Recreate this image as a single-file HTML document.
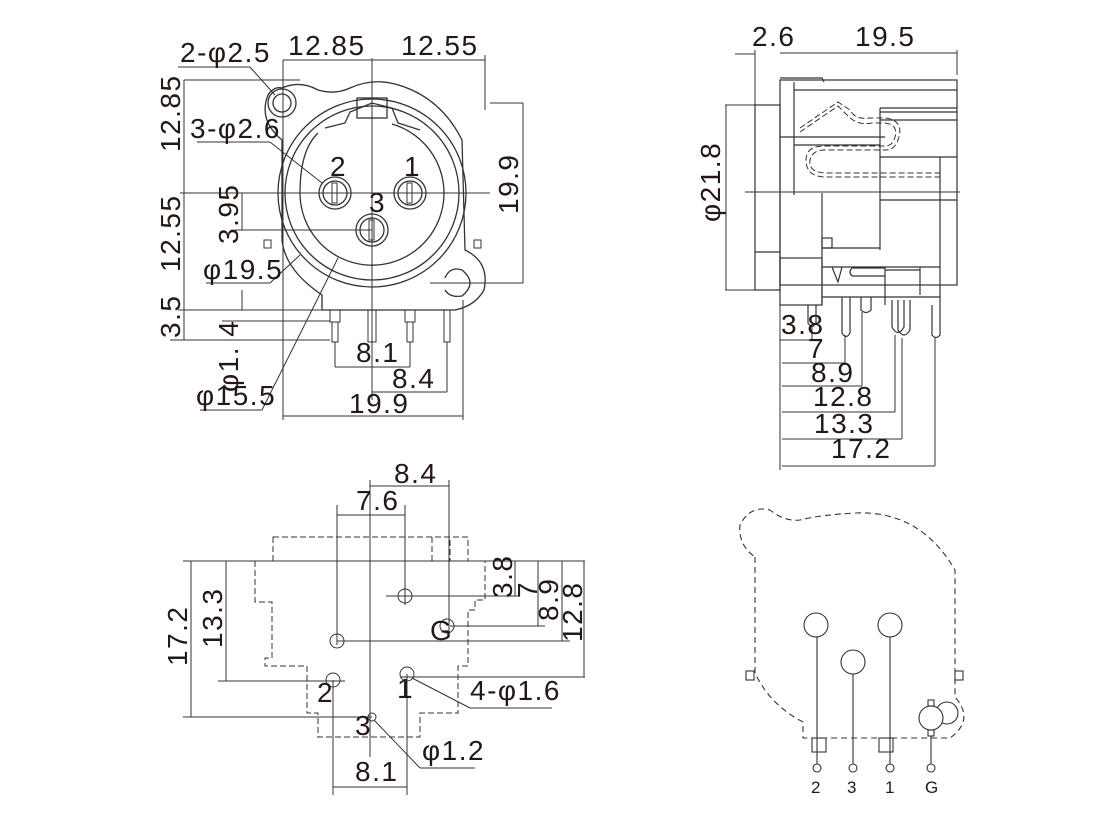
<!DOCTYPE html>
<html><head><meta charset="utf-8"><style>
html,body{margin:0;padding:0;background:#fff}
svg{display:block}
text{font-family:"Liberation Sans",sans-serif;fill:#231815}
.big{font-size:28px;letter-spacing:1.5px}
</style></head><body>
<svg width="1120" height="822" viewBox="0 0 1120 822" xmlns="http://www.w3.org/2000/svg">
<g fill="none" stroke="#333" stroke-width="1">
<path d="M282,88 Q300,80 318,90 Q335,95 350,88 Q372,78 395,84 Q440,96 462,140 L465,250 Q490,262 484,290 Q475,306 455,310 L322,310 L322,295 Q285,270 282,240 L282,140 Q258,120 268,95 Q274,86 282,88 Z" stroke-width="1.3"/>
<circle cx="282" cy="103" r="14" stroke-width="1.3"/>
<circle cx="282" cy="103" r="9" stroke-width="1.3"/>
<circle cx="372" cy="193" r="94" stroke-width="1.3"/>
<circle cx="372" cy="193" r="87" stroke-width="1.3"/>
<path d="M318,133 Q300,150 300,193 A72,72 0 1 0 392,124" stroke-width="1.3"/>
<path d="M325,128 L345,123 L350,112 L372,103 L392,108 L398,123 L420,130" stroke-width="1.3"/>
<rect x="357" y="98" width="30" height="20" stroke-width="1.3"/>
<rect x="264" y="240" width="7" height="8"/><rect x="474" y="240" width="7" height="8"/>
<path d="M445,278 Q450,266 462,270 Q478,283 462,296 Q450,298 445,290" stroke-width="1.3"/>
<circle cx="335" cy="193" r="16" stroke-width="1.3"/><circle cx="335" cy="193" r="12" stroke-width="1.3"/>
<circle cx="410" cy="193" r="16" stroke-width="1.3"/><circle cx="410" cy="193" r="12" stroke-width="1.3"/>
<circle cx="372" cy="230" r="16" stroke-width="1.3"/><circle cx="372" cy="230" r="12" stroke-width="1.3"/>
<rect x="332" y="183" width="5" height="20"/><rect x="407" y="183" width="5" height="20"/><rect x="369" y="220" width="5" height="20"/>
<rect x="330" y="310" width="10" height="12"/><rect x="332" y="322" width="6" height="20"/>
<rect x="368" y="310" width="8" height="32"/>
<rect x="405" y="310" width="10" height="12"/><rect x="407" y="322" width="6" height="20"/>
<rect x="444" y="310" width="6" height="32"/>
<line x1="372" y1="58" x2="372" y2="400"/>
<line x1="180" y1="193" x2="490" y2="193"/>
<line x1="283" y1="60" x2="485" y2="60"/>
<line x1="485" y1="55" x2="485" y2="110"/>
<line x1="283" y1="60" x2="283" y2="420"/>
<line x1="184" y1="80" x2="300" y2="80"/>
<line x1="184" y1="80" x2="184" y2="340"/>
<line x1="178" y1="310" x2="330" y2="310"/>
<line x1="170" y1="340" x2="330" y2="340"/>
<line x1="178" y1="67" x2="250" y2="67"/><line x1="250" y1="67" x2="275" y2="95"/>
<line x1="197" y1="142" x2="270" y2="142"/><line x1="270" y1="142" x2="322" y2="183"/>
<line x1="242" y1="193" x2="242" y2="230"/><line x1="235" y1="230" x2="372" y2="230"/>
<line x1="206" y1="283" x2="270" y2="283"/><line x1="270" y1="283" x2="300" y2="255"/>
<line x1="242" y1="290" x2="242" y2="310"/><line x1="222" y1="321" x2="330" y2="321"/>
<line x1="200" y1="410" x2="262" y2="410"/><line x1="262" y1="410" x2="338" y2="258"/>
<line x1="490" y1="103" x2="523" y2="103"/><line x1="430" y1="283" x2="523" y2="283"/><line x1="523" y1="103" x2="523" y2="283"/>
<line x1="335" y1="342" x2="335" y2="367"/><line x1="410" y1="342" x2="410" y2="367"/><line x1="335" y1="367" x2="410" y2="367"/>
<line x1="447" y1="342" x2="447" y2="392"/><line x1="372" y1="392" x2="447" y2="392"/>
<line x1="463" y1="300" x2="463" y2="420"/><line x1="283" y1="416" x2="463" y2="416"/>
</g>
<g class="big">
<text x="180" y="62">2-φ2.5</text>
<text x="288" y="55">12.85</text>
<text x="401" y="55">12.55</text>
<text x="190" y="138">3-φ2.6</text>
<text x="330" y="176">2</text><text x="404" y="176">1</text><text x="369" y="212">3</text>
<text x="203" y="279">φ19.5</text>
<text x="356" y="362">8.1</text>
<text x="392" y="388">8.4</text>
<text x="196" y="405">φ15.5</text>
<text x="349" y="413">19.9</text>
<text transform="translate(180,152) rotate(-90)">12.85</text>
<text transform="translate(180,272) rotate(-90)">12.55</text>
<text transform="translate(180,338) rotate(-90)">3.5</text>
<text transform="translate(238,244) rotate(-90)">3.95</text>
<text transform="translate(238,392) rotate(-90)">φ1. 4</text>
<text transform="translate(518,214) rotate(-90)">19.9</text>
</g>

<g fill="none" stroke="#333" stroke-width="1.2">
<rect x="755" y="105" width="25" height="185"/>
<line x1="755" y1="252" x2="780" y2="252"/>
<rect x="780" y="80" width="177" height="205"/>
<path d="M780,78 L822,78 L824,82"/>
<line x1="794" y1="82" x2="794" y2="195"/>
<line x1="794" y1="90" x2="957" y2="90"/>
<line x1="880" y1="108" x2="957" y2="108"/><line x1="880" y1="112" x2="957" y2="112"/>
<line x1="880" y1="120" x2="957" y2="120"/>
<line x1="780" y1="137" x2="885" y2="137"/><line x1="880" y1="108" x2="880" y2="250"/>
<line x1="794" y1="145" x2="880" y2="145"/>
<line x1="880" y1="157" x2="957" y2="157"/>
<line x1="940" y1="157" x2="940" y2="305"/>
<line x1="822" y1="193" x2="822" y2="305"/>
<line x1="822" y1="248" x2="880" y2="248"/><rect x="822" y="238" width="10" height="10"/>
<line x1="822" y1="267" x2="940" y2="267"/>
<line x1="880" y1="200" x2="957" y2="200"/>
<rect x="780" y="258" width="42" height="47"/>
<line x1="822" y1="297" x2="940" y2="297"/>
<path d="M832,267 L838,282 L842,267"/>
<path d="M852,276 L885,276 M852,276 Q848,272 852,268 L885,268"/>
<line x1="885" y1="267" x2="885" y2="305"/>
<line x1="920" y1="267" x2="920" y2="295"/>
<line x1="885" y1="270" x2="920" y2="270"/>
<path d="M808,305 L808,323 Q812,330 816,323 L816,305"/>
<path d="M842,297 L842,333 Q846,340 850,333 L850,297"/>
<path d="M861,297 L861,310 Q866,315 871,310 L871,297"/>
<path d="M892,300 L892,327 Q898,338 904,327 L904,300"/>
<path d="M898,300 L898,330 Q904,340 910,330 L910,300"/>
<path d="M932,305 L932,335 Q936,340 940,335 L940,305"/>
</g>
<g fill="none" stroke="#333" stroke-width="1" stroke-dasharray="6,3">
<path d="M800,128 L838,102 L850,110 Q855,120 870,118 L885,118 Q905,120 898,140 Q895,150 885,150 L825,150 Q812,150 810,160 Q808,172 825,173 L940,173"/>
<path d="M800,132 L838,106 L848,116 Q858,126 872,123 L885,123 Q900,125 894,140 Q892,146 884,146 L824,146 Q806,146 806,160 Q806,177 826,177 L940,177"/>
</g>
<g fill="none" stroke="#333" stroke-width="1">
<line x1="755" y1="50" x2="755" y2="105"/><line x1="735" y1="54" x2="755" y2="54"/>
<line x1="780" y1="53" x2="957" y2="53"/><line x1="957" y1="50" x2="957" y2="75"/>
<line x1="725" y1="105" x2="755" y2="105"/><line x1="725" y1="290" x2="755" y2="290"/><line x1="726" y1="105" x2="726" y2="290"/>
<line x1="745" y1="192" x2="960" y2="192"/>
<line x1="780" y1="305" x2="780" y2="470"/>
<line x1="780" y1="340" x2="812" y2="340"/><line x1="812" y1="325" x2="812" y2="340"/>
<line x1="782" y1="363" x2="845" y2="363"/><line x1="845" y1="335" x2="845" y2="363"/>
<line x1="782" y1="386" x2="862" y2="386"/><line x1="862" y1="312" x2="862" y2="386"/>
<line x1="782" y1="412" x2="895" y2="412"/><line x1="895" y1="335" x2="895" y2="412"/>
<line x1="782" y1="439" x2="902" y2="439"/><line x1="902" y1="338" x2="902" y2="439"/>
<line x1="782" y1="466" x2="935" y2="466"/><line x1="935" y1="338" x2="935" y2="466"/>
</g>
<g class="big">
<text x="752" y="46">2.6</text><text x="855" y="46">19.5</text>
<text transform="translate(720,222) rotate(-90)">φ21.8</text>
<text x="781" y="334">3.8</text><text x="808" y="358">7</text>
<text x="811" y="382">8.9</text><text x="813" y="406">12.8</text>
<text x="814" y="433">13.3</text><text x="831" y="458">17.2</text>
</g>

<g fill="none" stroke="#333" stroke-width="1" stroke-dasharray="6,3">
<path d="M273,537 L468,537 L468,561 L273,561 Z"/>
<line x1="432" y1="537" x2="432" y2="561"/><line x1="450" y1="540" x2="450" y2="561"/>
<path d="M273,561 L255,561 L255,602 L272,602 L272,658 L265,658 L265,666 L307,666 L307,713 L318,713 L318,737 L420,737 L420,713 L458,713 L458,666 L468,666 L468,610 L475,610 L475,600 L485,600 L485,561 L468,561"/>
</g>
<g fill="none" stroke="#333" stroke-width="1">
<circle cx="405" cy="596" r="7"/><circle cx="337" cy="641" r="7"/><circle cx="447" cy="626" r="7"/>
<circle cx="407" cy="674" r="7"/><circle cx="333" cy="680" r="7"/><circle cx="372" cy="717" r="4"/>
<line x1="370" y1="480" x2="370" y2="757"/>
<line x1="449" y1="480" x2="449" y2="630"/><line x1="370" y1="486" x2="449" y2="486"/>
<line x1="337" y1="505" x2="337" y2="645"/><line x1="405" y1="505" x2="405" y2="605"/><line x1="337" y1="515" x2="405" y2="515"/>
<line x1="386" y1="596" x2="520" y2="596"/>
<line x1="450" y1="626" x2="545" y2="626"/>
<line x1="337" y1="641" x2="570" y2="641"/>
<line x1="400" y1="677" x2="585" y2="677"/>
<line x1="183" y1="561" x2="585" y2="561"/>
<line x1="515" y1="561" x2="515" y2="596"/><line x1="538" y1="561" x2="538" y2="626"/>
<line x1="562" y1="561" x2="562" y2="641"/><line x1="584" y1="561" x2="584" y2="677"/>
<line x1="191" y1="561" x2="191" y2="717"/><line x1="183" y1="717" x2="372" y2="717"/>
<line x1="226" y1="561" x2="226" y2="681"/><line x1="218" y1="681" x2="345" y2="681"/>
<line x1="333" y1="680" x2="333" y2="795"/><line x1="407" y1="674" x2="407" y2="795"/><line x1="333" y1="787" x2="407" y2="787"/>
<line x1="412" y1="678" x2="470" y2="708"/><line x1="470" y1="708" x2="552" y2="708"/>
<line x1="374" y1="720" x2="420" y2="768"/><line x1="420" y1="768" x2="475" y2="768"/>
</g>
<g class="big">
<text x="394" y="483">8.4</text><text x="356" y="510">7.6</text>
<text x="430" y="640">G</text>
<text x="317" y="702">2</text><text x="397" y="698">1</text><text x="355" y="735">3</text>
<text x="470" y="700">4-φ1.6</text>
<text x="422" y="760">φ1.2</text>
<text x="355" y="781">8.1</text>
<text transform="translate(187,666) rotate(-90)">17.2</text>
<text transform="translate(222,648) rotate(-90)">13.3</text>
<text transform="translate(512,598) rotate(-90)">3.8</text>
<text transform="translate(537,598) rotate(-90)">7</text>
<text transform="translate(558,621) rotate(-90)">8.9</text>
<text transform="translate(582,642) rotate(-90)">12.8</text>
</g>

<g fill="none" stroke="#333" stroke-width="1.1">
<path d="M755,557 L755,673 Q770,705 803,722 L803,738 L950,738 Q975,720 955,697 L955,570 Q920,510 855,513 Q820,515 800,520 Q785,522 770,510 Q750,505 740,525 Q738,545 755,557" stroke-dasharray="6,4"/>
<circle cx="816" cy="625" r="12"/><circle cx="853" cy="662" r="12"/><circle cx="890" cy="625" r="12"/>
<circle cx="947" cy="713" r="11"/><circle cx="931" cy="718" r="12" fill="#fff"/>
<rect x="928" y="700" width="6" height="6"/><rect x="928" y="730" width="6" height="6"/>
<rect x="812" y="738" width="14" height="14" fill="#fff"/><rect x="879" y="738" width="14" height="14" fill="#fff"/>
<rect x="746" y="671" width="8" height="9"/><rect x="955" y="671" width="8" height="9"/>
<line x1="817" y1="637" x2="817" y2="764"/><line x1="853" y1="674" x2="853" y2="764"/>
<line x1="890" y1="637" x2="890" y2="764"/><line x1="931" y1="736" x2="931" y2="764"/>
<circle cx="817" cy="768" r="4"/><circle cx="853" cy="768" r="4"/><circle cx="890" cy="768" r="4"/><circle cx="931" cy="768" r="4"/>
</g>
<g font-size="17">
<text x="811" y="793">2</text><text x="847" y="793">3</text><text x="885" y="793">1</text><text x="925" y="793">G</text>
</g>
</svg>
</body></html>
